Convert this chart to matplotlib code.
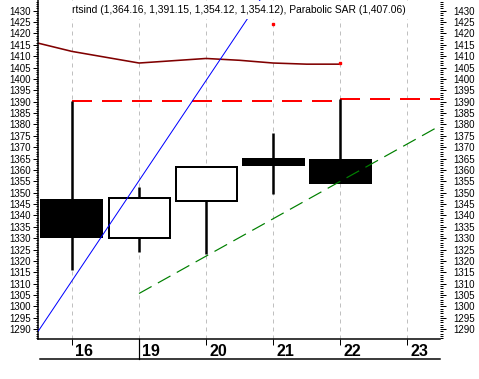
import numpy as np
import matplotlib
matplotlib.use("Agg")
import matplotlib.pyplot as plt
from matplotlib.patches import Rectangle
from matplotlib.ticker import MultipleLocator
import matplotlib.transforms as mtransforms

# DATA
days = ["16", "19", "20", "21", "22", "23"]
opens = [1347.0, 1330.2, 1346.4, 1365.0, 1364.16]
highs = [1390.4, 1352.3, 1361.4, 1376.2, 1391.15]
lows = [1316.0, 1324.0, 1323.0, 1349.4, 1354.12]
closes = [1330.4, 1347.5, 1361.4, 1362.0, 1354.12]

avg_x = [-0.5, 0, 1, 2, 2.5, 3, 3.5, 4]
avg_y = [1415.7, 1412.1, 1407.0, 1409.0, 1408.2, 1407.0, 1406.5, 1406.5]

sar_x = [3, 4]
sar_y = [1424.0, 1407.06]

high_x = [0, 4, 5.5]
high_y = [1390.4, 1391.15, 1391.15]

blue_x = [-0.5, 3.0]
blue_y = [1289.3, 1443.3]

green_x = [1, 5.5]
green_y = [1305.7, 1379.6]

title = "rtsind (1,364.16, 1,391.15, 1,354.12, 1,354.12), Parabolic SAR (1,407.06)"

# PLOT VARIABLES
W, H, DPI = 479, 379, 100
FONT = "Liberation Sans"
TICK_FONTSIZE = 7
DAY_FONTSIZE = 11.5
body_width = 0.91
ylim = (1285.7, 1434.7)
xlim = (-0.507, 5.49)


def px(n):
  return n * 72.0 / DPI


def draw_candles(ax):
  for i in range(len(opens)):
    o, h, l, c = opens[i], highs[i], lows[i], closes[i]
    ax.plot([i, i], [l, h], color="black", linewidth=px(2.5), zorder=3,
            solid_capstyle="butt")
    face = "white" if c > o else "black"
    lo = min(o, c)
    ax.add_patch(Rectangle((i - body_width / 2, lo), body_width, abs(c - o),
                           facecolor=face, edgecolor="black",
                           linewidth=px(2), zorder=4))


def plot():
  plt.rcParams["font.family"] = [FONT, "DejaVu Sans"]
  fig = plt.figure(figsize=(W / DPI, H / DPI), dpi=DPI)
  ax = fig.add_axes([38 / W, 40 / H, 402 / W, 339 / H])

  ax.set_xlim(xlim)
  ax.set_ylim(ylim)

  # grid
  for i in range(len(days)):
    ax.axvline(i, color="#c0c0c0", linewidth=px(1), linestyle=(0, (4, 4)), zorder=1)

  ax.plot(avg_x, avg_y, color="#800000", linewidth=px(1.6), zorder=2)
  ax.plot(high_x, high_y, color="#ff0000", linewidth=px(2), drawstyle="steps-post",
          linestyle=(0, (10, 5)), zorder=2)
  ax.plot(blue_x, blue_y, color="#0000ff", linewidth=px(1), zorder=5)
  ax.plot(green_x, green_y, color="#008000", linewidth=px(1.2),
          linestyle=(0, (12, 6)), zorder=5)
  ax.plot(sar_x, sar_y, linestyle="none", marker="s", markersize=2,
          color="#ff0000", zorder=6)

  draw_candles(ax)

  trans = mtransforms.blended_transform_factory(ax.transData, ax.transAxes)
  ax.text(0, 1 - 10 / 339.0, title, transform=trans, fontsize=7.4, va="center",
          ha="left", zorder=10,
          bbox=dict(facecolor="white", edgecolor="none", pad=3))

  # spines
  ax.spines["top"].set_visible(False)
  ax.spines["right"].set_visible(False)
  ax.spines["left"].set_linewidth(px(1.5))
  ax.spines["bottom"].set_linewidth(px(1.5))

  # y axis, left
  ax.set_yticks(np.arange(1290, 1431, 5))
  ax.yaxis.set_minor_locator(MultipleLocator(1))
  ax.tick_params(axis="y", which="major", length=px(5), width=px(1), pad=px(2),
                 labelsize=TICK_FONTSIZE)
  ax.tick_params(axis="y", which="minor", length=px(2.5), width=px(1))

  # y axis, right
  ax2 = ax.twinx()
  ax2.set_ylim(ylim)
  ax2.set_yticks(np.arange(1290, 1431, 5))
  ax2.yaxis.set_minor_locator(MultipleLocator(1))
  for s in ax2.spines.values():
    s.set_visible(False)
  ax2.tick_params(axis="y", which="major", length=px(6), width=px(1), pad=px(7),
                  labelsize=TICK_FONTSIZE)
  ax2.tick_params(axis="y", which="minor", length=px(3), width=px(1))

  # x axis
  ax.set_xticks(range(len(days)))
  ax.set_xticklabels(days, fontsize=DAY_FONTSIZE, fontweight="bold", ha="left")
  ax.tick_params(axis="x", length=px(6), width=px(1), pad=px(-1))
  offset = mtransforms.ScaledTranslation(3 / DPI, 0, fig.dpi_scale_trans)
  for lab in ax.get_xticklabels():
    lab.set_transform(lab.get_transform() + offset)

  low_y = -20 / 339.0
  ax.plot([-0.478, xlim[1]], [low_y, low_y], transform=trans, color="black",
          linewidth=px(1.5), clip_on=False)
  ax.plot([1, 1], [0, low_y], transform=trans, color="black",
          linewidth=px(1.2), clip_on=False)

  fig.savefig("out.png", dpi=DPI)


if __name__ == "__main__":
  plot()
